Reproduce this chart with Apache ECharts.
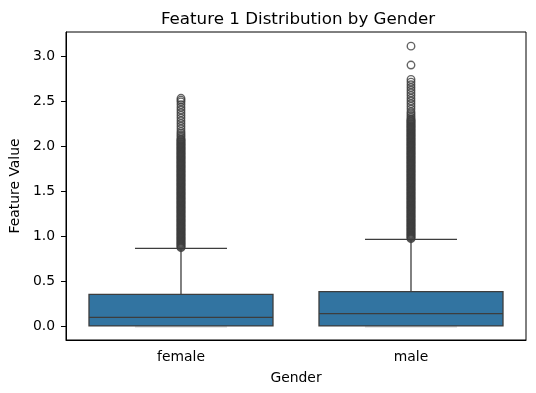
<!DOCTYPE html>
<html>
<head>
<meta charset="utf-8">
<script src="https://cdn.jsdelivr.net/npm/echarts@6/dist/echarts.min.js"></script>
<style>html,body{margin:0;padding:0;background:#fff}#c{width:536px;height:393px}</style>
</head>
<body>
<div id="c"></div>
<script>
var categories = ['female', 'male'];
// [lower whisker, Q1, median, Q3, upper whisker]
var femaleBox = [0.0, 0.0, 0.096, 0.352, 0.863];
var maleBox = [0.0, 0.0, 0.137, 0.381, 0.963];
var femaleOutliers = [
  0.87,0.88,0.89,0.90,0.91,0.92,0.93,0.94,0.95,0.96,0.97,0.98,0.99,
  1.00,1.01,1.02,1.03,1.04,1.05,1.06,1.07,1.08,1.09,1.10,1.11,1.12,1.13,1.14,1.15,1.16,1.17,1.18,1.19,
  1.20,1.21,1.22,1.23,1.24,1.25,1.26,1.27,1.28,1.29,1.30,1.31,1.32,1.33,1.34,1.35,1.36,1.37,1.38,1.39,
  1.40,1.41,1.42,1.43,1.44,1.45,1.46,1.47,1.48,1.49,1.50,1.51,1.52,1.53,1.54,1.55,1.56,1.57,1.58,1.59,
  1.60,1.61,1.62,1.63,1.64,1.65,1.66,1.67,1.68,1.69,1.70,1.71,1.72,1.73,1.74,1.75,1.76,1.77,1.78,1.79,
  1.80,1.81,1.82,1.83,1.84,1.85,1.86,1.87,1.88,1.89,1.90,1.91,1.92,1.93,1.94,1.95,1.96,1.97,1.98,1.99,
  2.00,2.01,2.02,2.03,2.04,2.05,2.06,2.07,2.08,2.10,2.12,2.14,2.16,2.19,2.22,2.25,2.28,2.31,2.34,
  2.37,2.40,2.43,2.46,2.49,2.51,2.53];
var maleOutliers = [
  0.97,0.98,0.99,1.00,1.01,1.02,1.03,1.04,1.05,1.06,1.07,1.08,1.09,1.10,1.11,1.12,1.13,1.14,1.15,1.16,
  1.17,1.18,1.19,1.20,1.21,1.22,1.23,1.24,1.25,1.26,1.27,1.28,1.29,1.30,1.31,1.32,1.33,1.34,1.35,1.36,
  1.37,1.38,1.39,1.40,1.41,1.42,1.43,1.44,1.45,1.46,1.47,1.48,1.49,1.50,1.51,1.52,1.53,1.54,1.55,1.56,
  1.57,1.58,1.59,1.60,1.61,1.62,1.63,1.64,1.65,1.66,1.67,1.68,1.69,1.70,1.71,1.72,1.73,1.74,1.75,1.76,
  1.77,1.78,1.79,1.80,1.81,1.82,1.83,1.84,1.85,1.86,1.87,1.88,1.89,1.90,1.91,1.92,1.93,1.94,1.95,1.96,
  1.97,1.98,1.99,2.00,2.01,2.02,2.03,2.04,2.05,2.06,2.07,2.08,2.09,2.10,2.11,2.12,2.13,2.14,2.15,2.16,
  2.17,2.18,2.19,2.20,2.21,2.22,2.23,2.24,2.25,2.26,2.27,2.28,2.29,2.30,2.32,2.34,2.36,2.38,2.41,2.44,
  2.47,2.50,2.53,2.56,2.59,2.62,2.65,2.68,2.71,2.74,2.90,3.11];
var yTicks = [0, 0.5, 1.0, 1.5, 2.0, 2.5, 3.0];
var yMin = -0.156, yMax = 3.267;

var boxData = [[0].concat(femaleBox), [1].concat(maleBox)];
var outlierData = [];
femaleOutliers.forEach(function (v) { outlierData.push([0, v]); });
maleOutliers.forEach(function (v) { outlierData.push([1, v]); });

var LINE = '#3d3d3d';
var FILL = '#3274a1';
var FONT = 'DejaVu Sans';

var chart = echarts.init(document.getElementById('c'), null, {renderer: 'canvas'});
chart.setOption({
  animation: false,
  backgroundColor: '#fff',
  title: {
    text: 'Feature 1 Distribution by Gender',
    left: 293, top: 6, textAlign: 'center',
    textStyle: {fontFamily: FONT, fontSize: 16.7, fontWeight: 'normal', color: '#000'}
  },
  grid: {left: 61, right: 10, top: 32, bottom: 53, show: true, borderColor: '#000', borderWidth: 1, backgroundColor: 'transparent'},
  xAxis: {
    type: 'category', data: categories, boundaryGap: true,
    name: 'Gender', nameLocation: 'middle', nameGap: 31,
    nameTextStyle: {fontFamily: FONT, fontSize: 13.9, color: '#000'},
    axisLine: {onZero: false, lineStyle: {color: '#000', width: 1}},
    axisTick: {alignWithLabel: true, length: 5, lineStyle: {color: '#000'}},
    axisLabel: {fontFamily: FONT, fontSize: 13.9, color: '#000', margin: 10},
    splitLine: {show: false}
  },
  yAxis: {
    type: 'value', min: yMin, max: yMax,
    name: 'Feature Value', nameLocation: 'middle', nameGap: 40,
    nameTextStyle: {fontFamily: FONT, fontSize: 13.9, color: '#000'},
    axisLine: {show: true, lineStyle: {color: '#000', width: 1}},
    axisTick: {show: true, length: 5, lineStyle: {color: '#000'}, customValues: yTicks},
    axisLabel: {fontFamily: FONT, fontSize: 13.9, color: '#000', margin: 11,
      customValues: yTicks, formatter: function (v) { return v.toFixed(1); }},
    splitLine: {show: false}
  },
  series: [
    {
      type: 'custom',
      data: boxData,
      encode: {x: 0, y: [1, 2, 3, 4, 5]},
      z: 2,
      renderItem: function (params, api) {
        var c = api.value(0);
        var lo = api.coord([c, api.value(1)]);
        var q1 = api.coord([c, api.value(2)]);
        var md = api.coord([c, api.value(3)]);
        var q3 = api.coord([c, api.value(4)]);
        var hi = api.coord([c, api.value(5)]);
        var bw = api.size([1, 0])[0] * 0.8;
        var x = lo[0];
        var ls = {stroke: LINE, lineWidth: 1.3};
        return {
          type: 'group',
          children: [
            {type: 'line', shape: {x1: x, y1: q3[1], x2: x, y2: hi[1]}, style: ls},
            {type: 'line', shape: {x1: x, y1: q1[1], x2: x, y2: lo[1]}, style: ls},
            {type: 'line', shape: {x1: x - bw / 4, y1: hi[1], x2: x + bw / 4, y2: hi[1]}, style: ls},
            {type: 'line', shape: {x1: x - bw / 4, y1: lo[1] + 1, x2: x + bw / 4, y2: lo[1] + 1}, style: {stroke: '#cccccc', lineWidth: 1}},
            {type: 'rect', shape: {x: x - bw / 2, y: q3[1], width: bw, height: q1[1] - q3[1]}, style: {fill: FILL, stroke: LINE, lineWidth: 1.3}},
            {type: 'line', shape: {x1: x - bw / 2, y1: md[1], x2: x + bw / 2, y2: md[1]}, style: ls}
          ]
        };
      }
    },
    {
      type: 'scatter',
      data: outlierData,
      symbol: 'circle',
      symbolSize: 7.5,
      z: 3,
      itemStyle: {color: 'rgba(0,0,0,0)', borderColor: LINE, borderWidth: 1.4}
    }
  ]
});
</script>
</body>
</html>
